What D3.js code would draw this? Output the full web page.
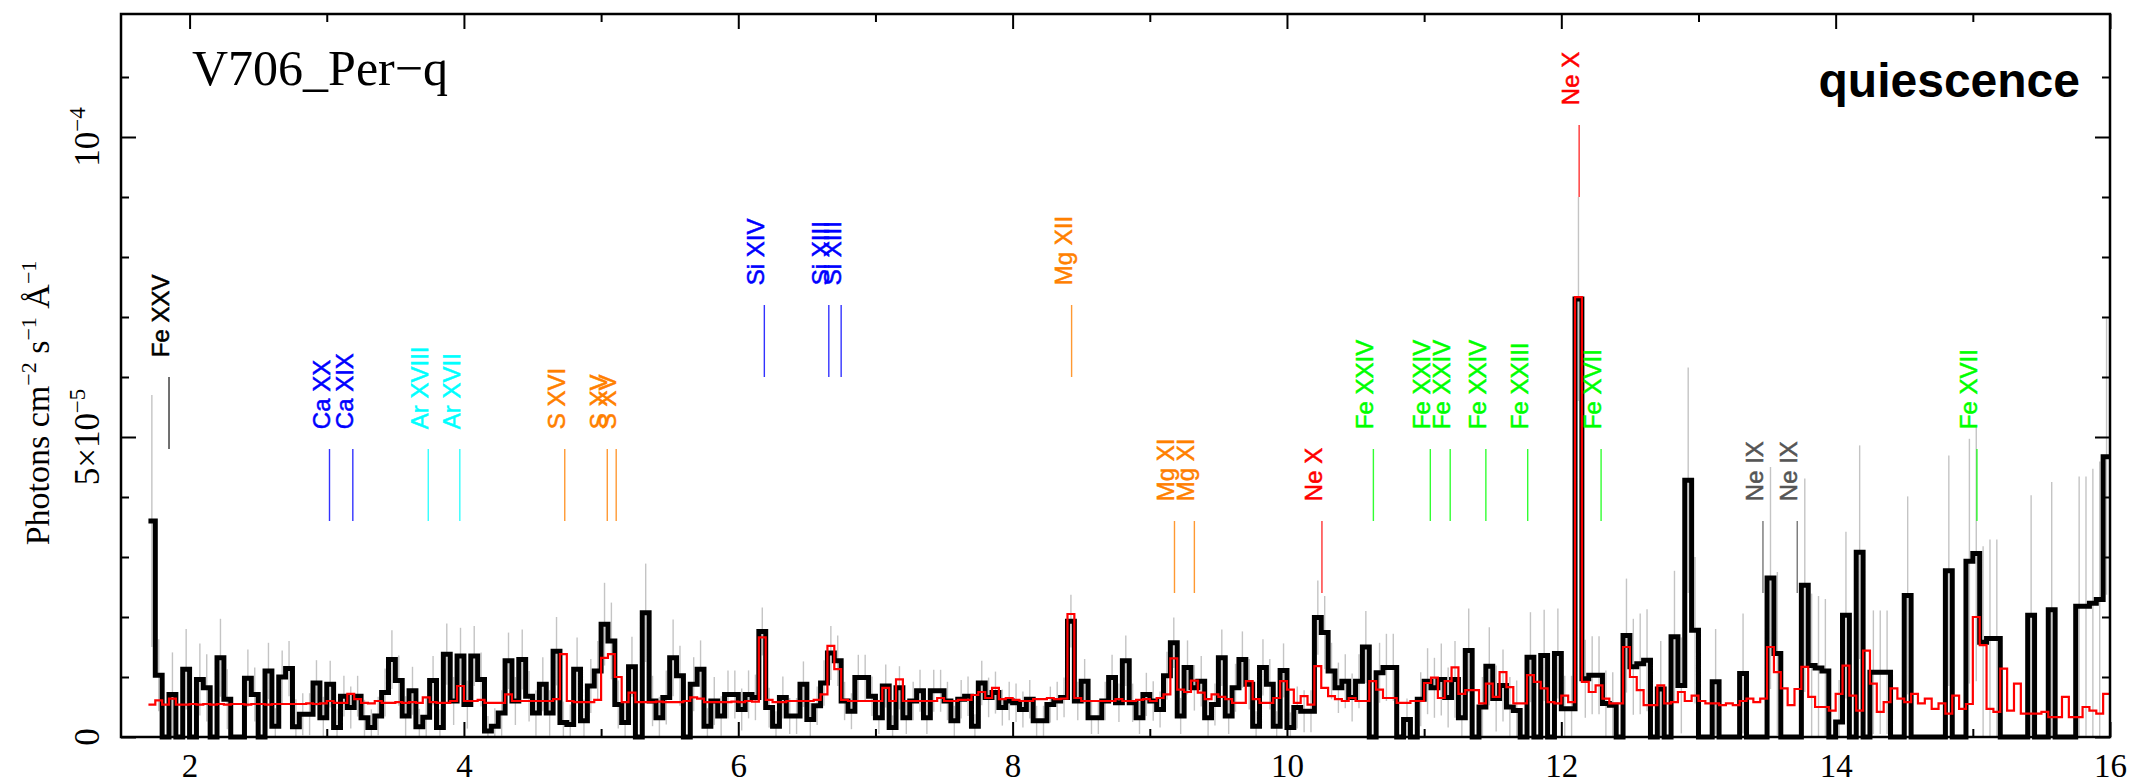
<!DOCTYPE html>
<html>
<head>
<meta charset="utf-8">
<script src="https://cdn.jsdelivr.net/npm/d3@7"></script>
<style>
html, body { margin: 0; padding: 0; background: #fff; }
svg { display: block; }
</style>
</head>
<body>
<div id="chart"></div>
<script>
// spectrum bins (Angstrom), fluxes in units of 1e-5 photons cm^-2 s^-1 A^-1
const binStart = 1.70;
const binWidth = 0.05;

const flux = [
  3.6, 1.03, 0, 0.71, 0, 1.13, 0, 0.96, 0.82, 0,
  1.32, 0.63, 0, 0, 0.98, 0.71, 0, 1.1, 0.18, 1.0,
  1.14, 0.17, 0.38, 0.38, 0.9, 0.32, 0.88, 0.16, 0.68, 0.49,
  0.68, 0.32, 0.16, 0.35, 0.74, 1.29, 0.94, 0.35, 0.77, 0.17,
  0.33, 0.94, 0.16, 1.38, 0.6, 1.35, 0.54, 1.35, 0.96, 0.1,
  0.18, 0.4, 1.27, 0.6, 1.29, 0.68, 0.4, 0.88, 0.4, 1.43,
  0.24, 0.21, 1.13, 0.27, 0.85, 1.1, 1.88, 1.6, 0.54, 0.24,
  1.17, 0, 2.07, 0.6, 0.32, 0.66, 1.32, 1.02, 0, 0.88,
  1.13, 0.18, 0.6, 0.35, 0.71, 0.71, 0.46, 0.71, 0.66, 1.76,
  0.49, 0.18, 0.66, 0.35, 0.35, 0.88, 0.29, 0.52, 0.9, 1.4,
  1.27, 0.6, 0.43, 0.99, 0.99, 0.68, 0.32, 0.85, 0.16, 0.82,
  0.32, 0.6, 0.77, 0.32, 0.77, 0.77, 0.6, 0.27, 0.63, 0.68,
  0.18, 0.9, 0.66, 0.74, 0.49, 0.6, 0.57, 0.46, 0.63, 0.27,
  0.27, 0.54, 0.6, 0.66, 1.93, 0.6, 0.93, 0.32, 0.32, 0.6,
  0.99, 0.57, 1.27, 0.57, 0.32, 0.71, 0.6, 0.46, 1.02, 1.57,
  0.35, 1.16, 0.82, 0.93, 0.32, 0.54, 1.32, 0.35, 0.82, 1.29,
  0.88, 0.18, 1.16, 0.88, 0.18, 1.11, 0.16, 0.49, 0.43, 0.43,
  1.99, 1.74, 1.1, 0.82, 0.93, 0.66, 0.93, 1.5, 0, 1.07,
  1.16, 1.16, 0, 0.29, 0, 0.63, 0.93, 0.82, 0.96, 0.66,
  0.96, 0.32, 1.44, 0, 0.5, 1.18, 0.64, 0.86, 0.5, 0.44,
  0, 1.33, 0, 1.36, 0, 1.39, 0.47, 0.47, 7.3, 0.97,
  1.03, 1.03, 0.56, 0.53, 0, 1.69, 1.17, 1.22, 1.28, 0,
  0.8, 0, 1.67, 0.86, 4.28, 1.78, 0, 0, 0.92, 0,
  0, 0, 1.06, 0, 0, 0, 2.65, 1.39, 0, 0,
  0, 2.53, 1.19, 1.15, 1.1, 0, 0.25, 2.03, 0, 3.08,
  0, 1.08, 1.08, 1.08, 0, 0, 2.36, 0, 0, 0,
  0, 0, 2.77, 0, 0, 2.93, 3.06, 1.58, 1.64, 1.64,
  0, 0, 0, 0, 2.03, 0, 0, 2.12, 0, 0,
  0, 2.18, 2.18, 2.23, 2.29, 4.67
];

const fluxErr = [
  2.1, 0.6, 0, 0.7, 0, 0.67, 0, 0.6, 0.56, 0,
  0.65, 0.5, 0, 0, 0.48, 0.45, 0, 0.47, 0.3, 0.44,
  0.46, 0.46, 0.35, 0.35, 0.38, 0.35, 0.39, 0.3, 0.34, 0.35,
  0.34, 0.3, 0.3, 0.32, 0.4, 0.49, 0.42, 0.33, 0.4, 0.3,
  0.33, 0.41, 0.3, 0.51, 0.4, 0.47, 0.4, 0.5, 0.45, 0.25,
  0.3, 0.38, 0.47, 0.4, 0.5, 0.42, 0.38, 0.45, 0.38, 0.57,
  0.35, 0.33, 0.53, 0.35, 0.45, 0.5, 0.69, 0.64, 0.4, 0.33,
  0.5, 0, 0.82, 0.42, 0.35, 0.45, 0.64, 0.5, 0, 0.45,
  0.48, 0.3, 0.4, 0.33, 0.4, 0.4, 0.35, 0.4, 0.38, 0.4,
  0.33, 0.25, 0.35, 0.3, 0.3, 0.38, 0.28, 0.32, 0.38, 0.45,
  0.42, 0.32, 0.3, 0.38, 0.38, 0.33, 0.27, 0.36, 0.2, 0.36,
  0.27, 0.32, 0.35, 0.27, 0.35, 0.35, 0.32, 0.25, 0.32, 0.33,
  0.2, 0.37, 0.33, 0.35, 0.3, 0.32, 0.32, 0.3, 0.32, 0.25,
  0.25, 0.3, 0.32, 0.33, 0.44, 0.32, 0.37, 0.27, 0.27, 0.32,
  0.38, 0.32, 0.42, 0.32, 0.27, 0.36, 0.33, 0.3, 0.4, 0.42,
  0.3, 0.45, 0.38, 0.42, 0.3, 0.35, 0.47, 0.3, 0.4, 0.47,
  0.42, 0.25, 0.47, 0.42, 0.25, 0.45, 0.25, 0.35, 0.35, 0.35,
  0.62, 0.61, 0.47, 0.42, 0.45, 0.4, 0.45, 0.6, 0, 0.5,
  0.56, 0.56, 0, 0.35, 0, 0.45, 0.55, 0.5, 0.6, 0.5,
  0.64, 0.4, 0.7, 0, 0.5, 0.65, 0.55, 0.6, 0.5, 0.5,
  0, 0.75, 0, 0.76, 0, 0.75, 0.55, 0.55, 1.7, 0.65,
  0.65, 0.65, 0.55, 0.55, 0, 0.95, 0.8, 0.84, 0.85, 0,
  0.8, 0, 1.1, 0.8, 1.88, 1.22, 0, 0, 0.88, 0,
  0, 0, 1.0, 0, 0, 0, 1.85, 1.36, 0, 0,
  0, 1.78, 1.2, 1.2, 1.2, 0, 0.7, 1.39, 0, 1.78,
  0, 1.03, 1.03, 1.03, 0, 0, 1.65, 0, 0, 0,
  0, 0, 1.92, 0, 0, 2.04, 2.13, 1.6, 1.65, 1.65,
  0, 0, 0, 0, 2.0, 0, 0, 2.13, 0, 0,
  0, 2.16, 2.16, 2.24, 2.3, 2.3
];

const model = [
  0.54, 0.61, 0.54, 0.64, 0.54, 0.54, 0.55, 0.54, 0.55, 0.54,
  0.55, 0.54, 0.55, 0.55, 0.54, 0.55, 0.55, 0.54, 0.55, 0.55,
  0.55, 0.55, 0.55, 0.56, 0.55, 0.56, 0.6, 0.57, 0.57, 0.72,
  0.63, 0.57, 0.56, 0.6, 0.57, 0.57, 0.58, 0.57, 0.58, 0.57,
  0.66, 0.58, 0.57, 0.57, 0.6, 0.85, 0.6, 0.6, 0.62, 0.57,
  0.57, 0.57, 0.71, 0.6, 0.6, 0.6, 0.6, 0.6, 0.6, 0.63,
  1.38, 0.6, 0.58, 0.58, 0.58, 0.62, 1.32, 1.38, 1.0, 0.58,
  0.74, 0.58, 0.58, 0.58, 0.59, 0.58, 0.58, 0.58, 0.6, 0.66,
  0.64, 0.58, 0.58, 0.58, 0.58, 0.59, 0.58, 0.6, 0.59, 1.66,
  0.62, 0.58, 0.58, 0.6, 0.6, 0.6, 0.6, 0.62, 0.71, 1.52,
  1.13, 0.62, 0.6, 0.6, 0.6, 0.6, 0.6, 0.82, 0.6, 0.96,
  0.6, 0.6, 0.6, 0.6, 0.6, 0.65, 0.6, 0.6, 0.62, 0.62,
  0.7, 0.75, 0.65, 0.82, 0.63, 0.65, 0.62, 0.6, 0.6, 0.63,
  0.63, 0.65, 0.63, 0.64, 2.05, 0.65, 0.6, 0.6, 0.6, 0.6,
  0.6, 0.63, 0.6, 0.6, 0.62, 0.63, 0.6, 0.65, 0.71, 1.31,
  0.79, 0.75, 0.94, 0.74, 0.63, 0.71, 0.67, 0.63, 0.57, 0.57,
  0.93, 0.63, 0.57, 0.57, 0.65, 0.93, 0.79, 0.57, 0.68, 0.54,
  1.18, 0.82, 0.68, 0.63, 0.6, 0.65, 0.6, 0.6, 0.93, 0.79,
  0.65, 0.65, 0.57, 0.57, 0.6, 0.6, 0.9, 0.99, 0.65, 0.93,
  1.16, 0.72, 0.78, 0.78, 0.56, 0.89, 0.67, 1.08, 0.83, 0.56,
  0.56, 1.03, 0.92, 0.81, 0.58, 0.56, 0.69, 0.58, 7.33, 0.92,
  0.75, 0.86, 0.64, 0.56, 0.56, 1.5, 1.0, 0.78, 0.53, 0.53,
  0.86, 0.56, 0.58, 0.75, 0.6, 0.69, 0.6, 0.56, 0.56, 0.53,
  0.56, 0.53, 0.6, 0.64, 0.58, 0.64, 1.5, 1.08, 0.81, 0.53,
  0.8, 1.17, 0.67, 0.5, 0.5, 0.44, 0.72, 1.19, 0.69, 0.44,
  1.44, 0.89, 0.42, 0.58, 0.81, 0.64, 0.58, 0.72, 0.56, 0.64,
  0.47, 0.56, 0.39, 0.69, 0.47, 0.55, 2.0, 1.53, 0.47, 0.42,
  1.14, 0.44, 0.89, 0.39, 0.39, 0.39, 0.42, 0.33, 0.33, 0.67,
  0.33, 0.33, 0.5, 0.44, 0.39, 0.72
];

// line identifications
const lineNames = ['Fe XXV', 'Ca XX', 'Ca XIX', 'Ar XVIII', 'Ar XVII', 'S XVI', 'S XV', 'S XV',
  'Si XIV', 'Si XIII', 'Si XIII', 'Mg XII', 'Mg XI', 'Mg XI', 'Ne X',
  'Fe XXIV', 'Fe XXIV', 'Fe XXIV', 'Fe XXIV', 'Fe XXIII', 'Ne X', 'Fe XVII',
  'Ne IX', 'Ne IX', 'Fe XVII'];
const lineWaves = [1.85, 3.02, 3.19, 3.74, 3.97, 4.735, 5.045, 5.11,
  6.19, 6.66, 6.75, 8.43, 9.18, 9.325, 10.255,
  10.63, 11.045, 11.19, 11.45, 11.755, 12.13, 12.29,
  13.47, 13.72, 15.03];
const lineGroups = ['black', 'blue', 'blue', 'cyan', 'cyan', 'orange', 'orange', 'orange',
  'blue', 'blue', 'blue', 'orange', 'orange', 'orange', 'red',
  'green', 'green', 'green', 'green', 'green', 'red', 'green',
  'gray', 'gray', 'green'];
// flux level where each marker tick starts
const lineLevels = [4.8, 3.6, 3.6, 3.6, 3.6, 3.6, 3.6, 3.6,
  6.0, 6.0, 6.0, 6.0, 2.4, 2.4, 2.4,
  3.6, 3.6, 3.6, 3.6, 3.6, 9.0, 3.6,
  2.4, 2.4, 3.6];

const groupColors = {
  black: '#000000', blue: '#0000ff', cyan: '#00ffff', orange: '#ff8000',
  red: '#ff0000', green: '#00ff00', gray: '#555555'
};

const xMajor = [2, 4, 6, 8, 10, 12, 14, 16];
const xMinor = [3, 5, 7, 9, 11, 13, 15];
const yMajor = [0, 5, 10];
const yMinor = [1, 2, 3, 4, 6, 7, 8, 9, 11];

const width = 2135, height = 783;
const serif = "'Liberation Serif', 'Times New Roman', Times, serif";
const sans = "'Liberation Sans', Arial, Helvetica, sans-serif";

const svg = d3.select('#chart').append('svg')
    .attr('width', width)
    .attr('height', height);

const x = d3.scaleLinear().domain([1.5, 16]).range([121, 2110]);
const y = d3.scaleLinear().domain([0, 12.05]).range([737, 14]);

// error bars
const bins = flux.map((v, i) => ({
    lo: binStart + i * binWidth,
    mid: binStart + (i + 0.5) * binWidth,
    v: v,
    e: fluxErr[i],
    m: model[i]
}));

svg.append('g')
    .selectAll('line')
    .data(bins.filter(d => d.e > 0))
    .enter()
    .append('line')
    .attr('x1', d => x(d.mid))
    .attr('x2', d => x(d.mid))
    .attr('y1', d => y(Math.max(0, d.v - d.e)))
    .attr('y2', d => y(d.v + d.e))
    .attr('stroke', '#c4c4c4')
    .attr('stroke-width', 1.4);

// step histograms
const stepLine = d3.line()
    .x(d => x(d[0]))
    .y(d => y(d[1]))
    .curve(d3.curveStepAfter);

const endWave = binStart + flux.length * binWidth;
const dataPts = bins.map(d => [d.lo, d.v]).concat([[endWave, flux[flux.length - 1]]]);
const modelPts = bins.map(d => [d.lo, d.m]).concat([[endWave, model[model.length - 1]]]);

svg.append('path')
    .datum(dataPts)
    .attr('d', stepLine)
    .attr('fill', 'none')
    .attr('stroke', '#000')
    .attr('stroke-width', 5)
    .attr('stroke-linejoin', 'miter');

svg.append('path')
    .datum(modelPts)
    .attr('d', stepLine)
    .attr('fill', 'none')
    .attr('stroke', '#ff0000')
    .attr('stroke-width', 2.2);

// frame
svg.append('rect')
    .attr('x', 121).attr('y', 14)
    .attr('width', 2110 - 121).attr('height', 737 - 14)
    .attr('fill', 'none')
    .attr('stroke', '#000')
    .attr('stroke-width', 2.5);

// ticks on all four sides, pointing inward
function tickAxis(axis, tr) {
    const g = svg.append('g').attr('transform', tr).call(axis);
    g.select('.domain').remove();
    g.selectAll('.tick line').attr('stroke', '#000').attr('stroke-width', 2);
    return g;
}

const bottom = tickAxis(d3.axisBottom(x).tickValues(xMajor).tickSize(-15).tickPadding(17)
    .tickFormat(d3.format('d')), 'translate(0,737)');
bottom.selectAll('text')
    .attr('font-family', serif)
    .attr('font-size', 33)
    .attr('fill', '#000');
tickAxis(d3.axisBottom(x).tickValues(xMinor).tickSize(-8).tickFormat(''), 'translate(0,737)');
tickAxis(d3.axisTop(x).tickValues(xMajor).tickSize(-15).tickFormat(''), 'translate(0,14)');
tickAxis(d3.axisTop(x).tickValues(xMinor).tickSize(-8).tickFormat(''), 'translate(0,14)');
tickAxis(d3.axisLeft(y).tickValues(yMajor).tickSize(-15).tickFormat(''), 'translate(121,0)');
tickAxis(d3.axisLeft(y).tickValues(yMinor).tickSize(-8).tickFormat(''), 'translate(121,0)');
tickAxis(d3.axisRight(y).tickValues(yMajor).tickSize(-15).tickFormat(''), 'translate(2110,0)');
tickAxis(d3.axisRight(y).tickValues(yMinor).tickSize(-8).tickFormat(''), 'translate(2110,0)');

// y tick labels (rotated)
const yLabels = [
    { v: 0, base: '0', sup: '' },
    { v: 5, base: '5\u00d710', sup: '\u22125' },
    { v: 10, base: '10', sup: '\u22124' }
];
yLabels.forEach(d => {
    const t = svg.append('text')
        .attr('transform', `translate(99,${y(d.v)}) rotate(-90)`)
        .attr('text-anchor', 'middle')
        .attr('font-family', serif)
        .attr('font-size', 35)
        .attr('fill', '#000');
    t.append('tspan').text(d.base);
    if (d.sup) {
        t.append('tspan').attr('dy', -14).attr('font-size', 23).text(d.sup);
    }
});

// y axis title
const yTitle = svg.append('text')
    .attr('transform', `translate(49,403) rotate(-90)`)
    .attr('text-anchor', 'middle')
    .attr('font-family', serif)
    .attr('font-size', 34)
    .attr('fill', '#000');
yTitle.append('tspan').text('Photons cm');
yTitle.append('tspan').attr('dy', -13).attr('font-size', 22).text('\u22122');
yTitle.append('tspan').attr('dy', 13).text(' s');
yTitle.append('tspan').attr('dy', -13).attr('font-size', 22).text('\u22121');
yTitle.append('tspan').attr('dy', 13).text(' \u00c5');
yTitle.append('tspan').attr('dy', -13).attr('font-size', 22).text('\u22121');

// line identification markers
const markers = lineNames.map((n, i) => ({
    name: n, w: lineWaves[i], color: groupColors[lineGroups[i]], level: lineLevels[i]
}));

svg.append('g')
    .selectAll('line')
    .data(markers)
    .enter()
    .append('line')
    .attr('x1', d => x(d.w))
    .attr('x2', d => x(d.w))
    .attr('y1', d => y(d.level))
    .attr('y2', d => y(d.level + 1.2))
    .attr('stroke', d => d.color)
    .attr('stroke-width', 1.4)
    .attr('opacity', 0.8);

svg.append('g')
    .selectAll('text')
    .data(markers)
    .enter()
    .append('text')
    .attr('transform', d => `translate(${x(d.w)},${y(d.level + 1.53)}) rotate(-90)`)
    .attr('font-family', sans)
    .attr('font-size', 24)
    .attr('fill', d => d.color)
    .attr('stroke', d => d.color)
    .attr('stroke-width', 0.5)
    .text(d => d.name);

// annotations
svg.append('text')
    .attr('x', 192).attr('y', 85)
    .attr('font-family', serif)
    .attr('font-size', 50)
    .attr('fill', '#000')
    .text('V706_Per\u2212q');

svg.append('text')
    .attr('x', 2080).attr('y', 97)
    .attr('text-anchor', 'end')
    .attr('font-family', sans)
    .attr('font-weight', 'bold')
    .attr('font-size', 48)
    .attr('fill', '#000')
    .text('quiescence');
</script>
</body>
</html>
